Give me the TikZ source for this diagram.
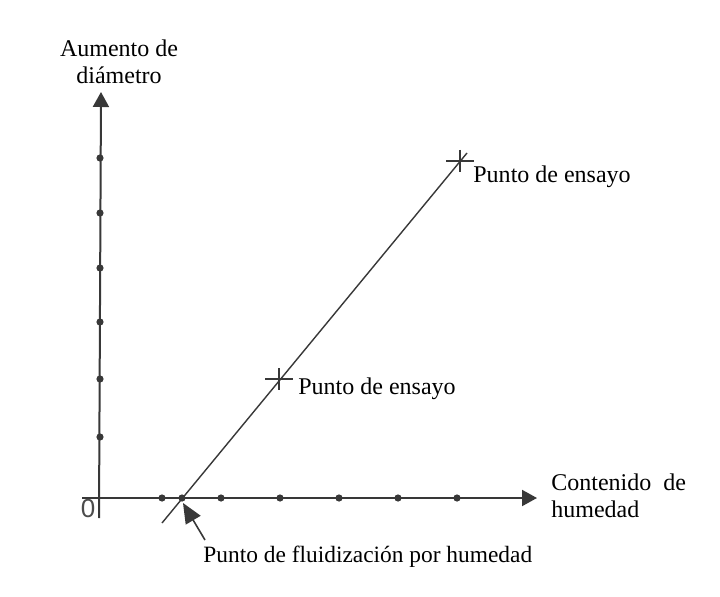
\documentclass[tikz,border=0pt]{standalone}
\usepackage{fontspec}
\setmainfont{Liberation Serif}
\newfontfamily\axsans{Liberation Sans}
\usetikzlibrary{arrows.meta}
\definecolor{inkline}{gray}{0.22}
\tikzset{
  axisline/.style={draw=inkline, line width=1bp, -{Triangle[length=7.5bp,width=8bp]}},
  graphline/.style={draw=inkline, line width=0.7bp},
  tickdot/.style={fill=inkline, circle, inner sep=0pt, minimum size=3.6bp},
  lbl/.style={font=\fontsize{12bp}{13.5bp}\selectfont, inner sep=0pt, text=black},
  pointer/.style={draw=inkline, line width=0.8bp, -{Triangle[length=10bp,width=8.5bp]}},
}
\begin{document}
\begin{tikzpicture}[x=0.5bp, y=-0.5bp]
\fill[white] (0,0) rectangle (720,597);
\useasboundingbox (0,0) rectangle (720,597);
% axes
\coordinate (O) at (99,498);
\coordinate (ybot) at (99,518);
\coordinate (ytop) at (101,92);
\coordinate (xstart) at (82,498);
\coordinate (xend) at (537,498);
\draw[axisline] (ybot) -- (ytop);
\draw[axisline] (xstart) -- (xend);
% tick dots
\foreach \i/\yy in {1/158,2/213,3/268,4/322,5/379,6/437} {
  \node[tickdot] (yd\i) at (100,\yy) {};
}
\foreach \i/\xx in {1/162,2/221,3/280,4/339,5/398,6/457} {
  \node[tickdot] (xd\i) at (\xx,498) {};
}
\node[tickdot] (fp) at (182,498) {};
\node[font=\axsans\fontsize{13bp}{13bp}\selectfont, text=black!70, inner sep=0pt] (olbl) at (88,509) {0};
% graph line
\coordinate (lo) at (162,523);
\coordinate (hi) at (467,153);
\draw[graphline] (lo) -- (hi);
% test points
\coordinate (p1) at (279,379);
\coordinate (p2) at (460,161);
\foreach \p in {p1,p2} {
  \draw[graphline] ([xshift=-14*0.5bp]\p) -- ([xshift=14*0.5bp]\p);
  \draw[graphline] ([yshift=11*0.5bp]\p) -- ([yshift=-11*0.5bp]\p);
}
% labels
\node[lbl, align=center, anchor=base] (ylab) at (119,84) {Aumento de\\diámetro};
\node[lbl, align=left, anchor=base west] (xlab) at (551,517) {Contenido\ \ de\\humedad};
\node[lbl, anchor=base west] (e2) at (473,183) {Punto de ensayo};
\node[lbl, anchor=base west] (e1) at (298,394) {Punto de ensayo};
\node[lbl, font=\fontsize{11.7bp}{13.5bp}\selectfont, anchor=base west] (flab) at (203,562) {Punto de fluidización por humedad};
\coordinate (ptail) at (205,540);
\coordinate (phead) at (183,503);
\draw[pointer] (ptail) -- (phead);
\end{tikzpicture}
\end{document}
